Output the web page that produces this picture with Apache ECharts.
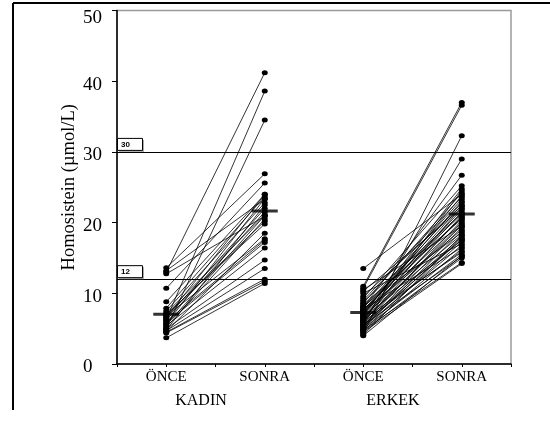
<!DOCTYPE html>
<html><head><meta charset="utf-8">
<script src="https://cdn.jsdelivr.net/npm/echarts@6/dist/echarts.min.js"></script>
<style>html,body{margin:0;padding:0;background:#fff}#c{width:550px;height:421px}</style>
</head><body><div id="c"></div>
<script>
const categories = ['ÖNCE', 'SONRA', 'ÖNCE', 'SONRA'];
const groups = ['KADIN', 'ERKEK'];
const yTickValues = [0, 10, 20, 30, 40, 50];
const refLines = [30, 12];

const kadinOnce  = [13.0, 6.3, 5.0, 13.6, 12.75, 13.2, 10.7, 8.8, 7.9, 7.2, 7.0, 6.8, 6.6, 6.5, 6.2, 6.0, 5.8, 5.7, 5.5, 5.4, 5.2, 5.0, 4.8, 4.7, 4.5, 4.4, 3.7, 6.9, 7.5, 4.6];
const kadinSonra = [41.2, 38.6, 34.5, 26.9, 20.9, 23.3, 25.6, 24.0, 23.7, 21.1, 19.8, 17.7, 24.0, 22.0, 21.5, 17.5, 17.2, 23.4, 21.0, 16.4, 20.5, 14.7, 22.5, 13.5, 12.0, 11.7, 11.4, 20.2, 22.8, 18.5];

const erkekOnce  = [11.0, 10.7, 4.3, 5.8, 8.0, 13.5, 9.3, 7.0, 6.2, 10.5, 10.3, 10.0, 9.0, 8.8, 8.6, 8.4, 8.2, 7.9, 7.8, 7.6, 7.5, 7.4, 7.3, 7.2, 6.9, 6.8, 6.7, 6.6, 6.5, 6.4, 6.3, 6.1, 6.0, 5.9, 5.7, 5.6, 5.5, 5.4, 5.3, 5.2, 5.1, 5.0, 4.9, 4.8, 4.7, 4.6, 4.5, 4.1, 4.0, 8.1, 7.7, 6.0, 5.5, 9.6, 7.1];
const erkekSonra = [37.0, 36.6, 32.3, 29.0, 26.7, 24.0, 25.2, 24.8, 24.5, 19.5, 22.0, 17.0, 23.6, 21.3, 24.2, 20.5, 18.6, 23.3, 16.5, 22.8, 21.8, 19.0, 23.0, 20.0, 22.5, 18.3, 21.5, 17.5, 20.8, 15.8, 22.2, 19.8, 16.0, 21.0, 18.0, 20.3, 15.2, 19.3, 17.8, 16.8, 18.8, 15.5, 17.3, 14.35, 16.3, 15.0, 14.2, 18.2, 15.3, 21.2, 20.7, 19.6, 17.6, 22.4, 23.8];

const meanOnce  = [7.05, 7.3];
const meanSonra = [21.65, 21.2];

const SERIF = 'Liberation Serif';
const chart = echarts.init(document.getElementById('c'), null, {renderer: 'canvas'});

const series = [];
function addPairs(before, after, xb, xa) {
  for (let i = 0; i < before.length; i++) {
    series.push({
      type: 'line',
      data: [[xb, before[i]], [xa, after[i]]],
      symbol: 'circle',
      symbolSize: [6, 5],
      itemStyle: {color: '#000'},
      lineStyle: {color: '#000', width: 0.8},
      silent: true,
      z: 2
    });
  }
}
addPairs(kadinOnce, kadinSonra, 1, 2);
addPairs(erkekOnce, erkekSonra, 3, 4);

const crossPath = 'path://M0,5.5 L26,5.5 L26,8.5 L0,8.5 Z M12,0 L14,0 L14,14 L12,14 Z';
series.push({
  type: 'scatter',
  data: [[1, meanOnce[0]], [2, meanSonra[0]], [3, meanOnce[1]], [4, meanSonra[1]]],
  symbol: crossPath,
  symbolSize: [26, 14],
  itemStyle: {color: '#000'},
  z: 5,
  silent: true,
  markLine: {
    silent: true,
    symbol: 'none',
    label: {show: false},
    lineStyle: {color: '#000', width: 1, type: 'solid'},
    data: refLines.map(v => ({yAxis: v}))
  }
});

chart.setOption({
  animation: false,
  grid: {left: 117, right: 39, top: 10.5, bottom: 57, show: true, borderColor: '#9a9a9a', borderWidth: 1.5, backgroundColor: 'transparent'},
  xAxis: {
    type: 'value', min: 0.5, max: 4.5, interval: 0.5,
    axisLine: {show: true, lineStyle: {color: '#000', width: 1.5}},
    axisTick: {show: true, inside: false, length: 3, lineStyle: {color: '#000'}},
    splitLine: {show: false},
    axisLabel: {
      color: '#000', fontFamily: SERIF, fontSize: 15, margin: 6,
      formatter: v => (Math.abs(v - Math.round(v)) < 1e-6 && v >= 1 && v <= 4) ? categories[Math.round(v) - 1] : ''
    }
  },
  yAxis: {
    type: 'value', min: yTickValues[0], max: yTickValues[yTickValues.length - 1], interval: 10,
    name: 'Homosistein (µmol/L)', nameLocation: 'middle', nameGap: 38, nameMoveOverlap: false,
    nameTextStyle: {color: '#000', fontFamily: SERIF, fontSize: 18.5},
    axisLine: {show: true, lineStyle: {color: '#000', width: 1.5}},
    axisTick: {show: true, inside: false, length: 5, lineStyle: {color: '#000'}},
    splitLine: {show: false},
    axisLabel: {
      color: '#000', fontFamily: SERIF, fontSize: 19, margin: 34, align: 'left',
      formatter: v => (v === yTickValues[yTickValues.length - 1] ? '{t|' + v + '}' : '{n|' + v + '}'),
      rich: {
        t: {color: '#000', fontFamily: SERIF, fontSize: 19, padding: [16, 0, 0, 0]},
        n: {color: '#000', fontFamily: SERIF, fontSize: 19, padding: [7, 0, 0, 0]}
      }
    }
  },
  series: series
});

const graphics = [
  {type: 'line', shape: {x1: 13, y1: 3, x2: 550, y2: 3}, style: {stroke: '#000', lineWidth: 2}, silent: true},
  {type: 'line', shape: {x1: 13, y1: 3, x2: 13, y2: 410}, style: {stroke: '#000', lineWidth: 2}, silent: true},
  {type: 'text', x: 201, y: 401, style: {text: groups[0], font: '16px "Liberation Serif"', fill: '#000', textAlign: 'center', textVerticalAlign: 'middle'}, silent: true},
  {type: 'text', x: 393, y: 401, style: {text: groups[1], font: '16px "Liberation Serif"', fill: '#000', textAlign: 'center', textVerticalAlign: 'middle'}, silent: true}
];
refLines.forEach(v => {
  const y = chart.convertToPixel({yAxisIndex: 0}, v);
  graphics.push({type: 'rect', shape: {x: 119, y: y - 12, width: 25, height: 12}, style: {fill: '#aaa'}, silent: true, z: 10});
  graphics.push({type: 'rect', shape: {x: 117.5, y: y - 13.5, width: 25, height: 12}, style: {fill: '#fff', stroke: '#000', lineWidth: 1}, silent: true, z: 11});
  graphics.push({type: 'text', x: 121, y: y - 7.5, style: {text: String(v), font: 'bold 8px "Liberation Sans"', fill: '#000', textVerticalAlign: 'middle'}, silent: true, z: 12});
});
chart.setOption({graphic: graphics});
</script></body></html>
